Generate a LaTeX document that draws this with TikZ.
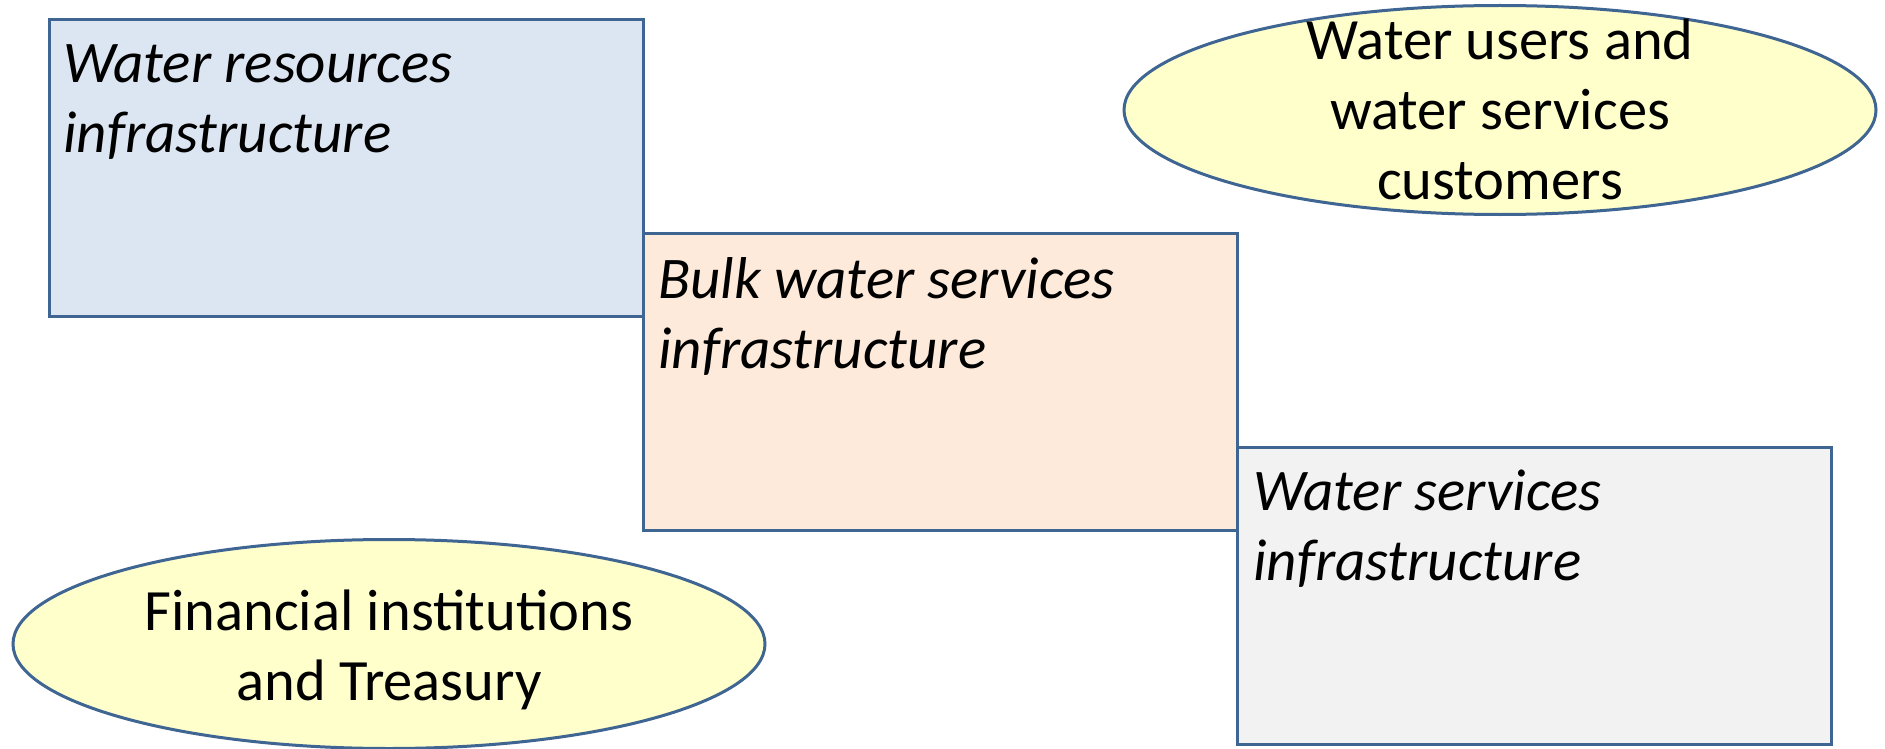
\documentclass[tikz,border=0pt]{standalone}
\usepackage{fontspec}
\setmainfont{Carlito}
\usetikzlibrary{shapes.geometric}
\definecolor{edgeblue}{HTML}{3F6593}
\definecolor{fillblue}{HTML}{DCE6F2}
\definecolor{fillpeach}{HTML}{FDEADA}
\definecolor{fillgrey}{HTML}{F2F2F2}
\definecolor{fillyellow}{HTML}{FFFFCC}
\tikzset{
  boxshape/.style={draw=edgeblue, line width=3pt, rectangle, inner sep=0pt,
    minimum width=594pt, minimum height=297pt, anchor=north west},
  ellshape/.style={draw=edgeblue, line width=3pt, ellipse, fill=fillyellow, inner sep=0pt,
    minimum width=752pt, minimum height=209pt},
  elltext/.style={inner sep=0pt, align=center,
    font=\fontsize{58.5}{70}\selectfont},
  boxtext/.style={anchor=north west, inner sep=0pt, align=left,
    font=\fontsize{59}{70}\selectfont\itshape}
}
\begin{document}
\begin{tikzpicture}[x=1pt,y=-1pt]
\useasboundingbox (0,0) rectangle (1885,749);
\fill[white] (0,0) rectangle (1885,749);
\node[boxshape, fill=fillblue] (b1) at (48,18) {};
\node[boxshape, fill=fillpeach] (b2) at (642,232) {};
\node[boxshape, fill=fillgrey] (b3) at (1236,446) {};
\node[boxtext] (t1) at ([xshift=15pt,yshift=-26pt]b1.north west) {Water resources\\infrastructure};
\node[boxtext] (t2) at ([xshift=16pt,yshift=-25pt]b2.north west) {Bulk water services\\infrastructure};
\node[boxtext] (t3) at ([xshift=17pt,yshift=-24pt]b3.north west) {Water services\\infrastructure};
\node[ellshape] (e1) at (1500,110) {};
\node[elltext] (et1) at ([yshift=1pt]e1.center) {Water users and\\water services\\customers};
\node[ellshape] (e2) at (389,644) {};
\node[elltext] (et2) at ([yshift=-6pt]e2.center) {Financial institutions\\and Treasury};
\end{tikzpicture}
\end{document}
